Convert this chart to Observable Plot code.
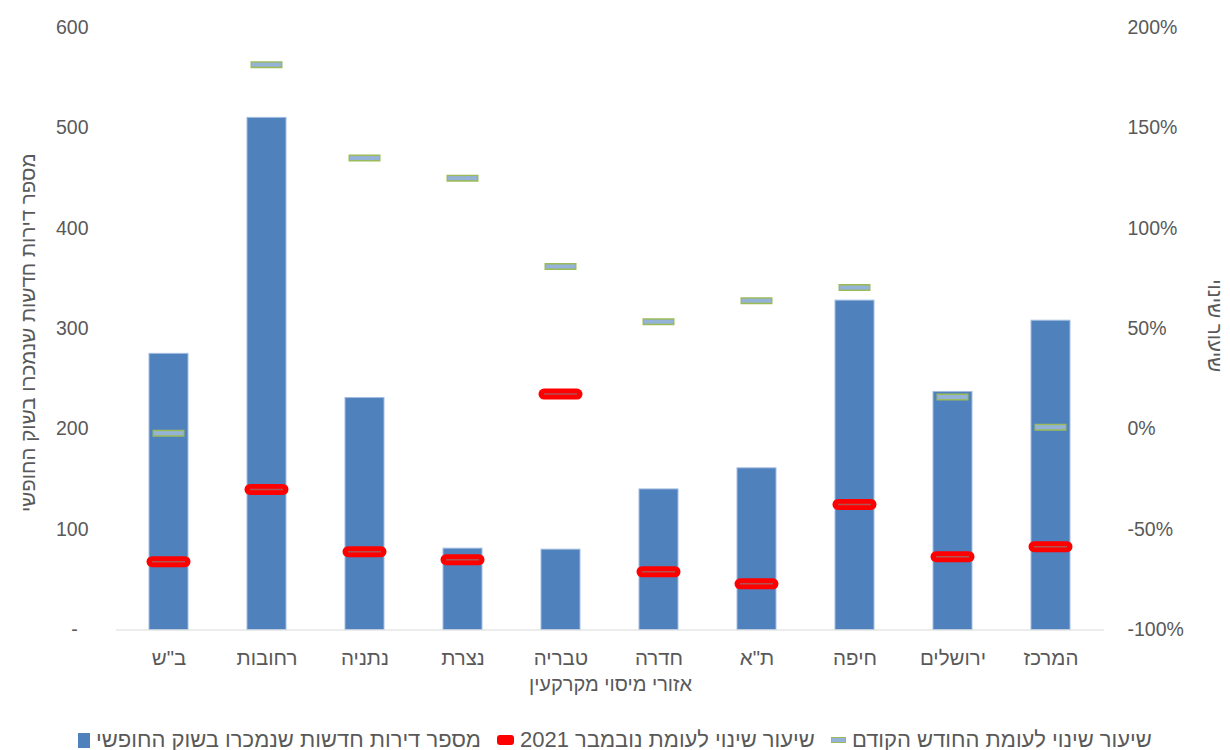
<!DOCTYPE html>
<html>
<head>
<meta charset="utf-8">
<script src="https://cdn.jsdelivr.net/npm/d3@7"></script>
<script src="https://cdn.jsdelivr.net/npm/@observablehq/plot@0.6"></script>
<style>
  body { margin: 0; background: #fff; font-family: "Liberation Sans", "DejaVu Sans", sans-serif; }
  #legend { display: flex; direction: rtl; justify-content: center; align-items: center;
            margin-top: 17px; font-size: 22px; color: #595959; line-height: 26px; }
  .item { display: flex; align-items: center; margin: 0 8px; }
  .sw { display: inline-block; margin-right: 6px; }
</style>
</head>
<body>
<div id="chart"></div>
<div id="legend"></div>
<script>
// ---- data ----
const regions = ["ב\"ש", "רחובות", "נתניה", "נצרת", "טבריה", "חדרה", "ת\"א", "חיפה", "ירושלים", "המרכז"];
const soldUnits = [275, 510, 231, 81, 80, 140, 161, 328, 237, 308];
const changeVsNov2021 = [-66, -30, -61, -65, 17.5, -71, -77, -37.5, -63.5, -58.5];
const changeVsPrevMonth = [-2, 181.5, 135, 125, 81, 53.5, 64, 70.5, 16, 1];
const leftTicks = [0, 100, 200, 300, 400, 500, 600];
const xTitle = "אזורי מיסוי מקרקעין";
const yLeftTitle = "מספר דירות חדשות שנמכרו בשוק החופשי";
const yRightTitle = "שיעור שינוי";
const legendLabels = {
  prev: "שיעור שינוי לעומת החודש הקודם",
  nov: "שיעור שינוי לעומת נובמבר 2021",
  bar: "מספר דירות חדשות שנמכרו בשוק החופשי"
};

const data = regions.map((r, i) => ({ region: r, sold: soldUnits[i], nov: changeVsNov2021[i], prev: changeVsPrevMonth[i] }));
// right (percent) axis shares the left scale: 0% ↔ 200, 100% ↔ 400
const pct = p => 200 + 2 * p;

const font = "Liberation Sans, DejaVu Sans, sans-serif";
const chart = Plot.plot({
  width: 1230,
  height: 710,
  marginTop: 27,
  marginBottom: 80.5,
  marginLeft: 116,
  marginRight: 126,
  style: { fontFamily: font, fontSize: "19.5px", color: "#595959", background: "#fff", overflow: "visible" },
  x: { domain: regions, paddingInner: 0.6, paddingOuter: 0.3 },
  y: { domain: [0, 600] },
  marks: [
    Plot.barY(data, { x: "region", y: "sold", fill: "#4f81bd", stroke: "#a3bde0", strokeWidth: 1 }),
    Plot.ruleY([0], { stroke: "#d9d9d9", strokeWidth: 1.2 }),
    // previous-month markers
    Plot.tickY(data, { x: "region", y: d => pct(d.prev), stroke: "#9bbb59", strokeWidth: 7, insetLeft: 3.5, insetRight: 3.5 }),
    Plot.tickY(data, { x: "region", y: d => pct(d.prev), stroke: "#95b3d7", strokeWidth: 4, insetLeft: 5, insetRight: 5 }),
    // Nov 2021 markers
    Plot.tickY(data, { x: "region", y: d => pct(d.nov), stroke: "#ff0000", strokeWidth: 11, strokeLinecap: "round", insetLeft: 3, insetRight: 3 }),
    Plot.tickY(data, { x: "region", y: d => pct(d.nov), stroke: "#b35050", strokeWidth: 1.5, insetLeft: 3, insetRight: 3 }),
    Plot.axisX({ tickSize: 0, tickPadding: 20, label: null, fontSize: 20.5 }),
    Plot.axisY({ ticks: leftTicks, tickSize: 0, tickPadding: 28, label: null,
                 tickFormat: d => d === 0 ? "-\u00a0\u00a0" : String(d) }),
    Plot.axisY({ anchor: "right", ticks: leftTicks, tickSize: 0, tickPadding: 23, label: null,
                 tickFormat: d => ((d - 200) / 2) + "%" }),
    Plot.text([xTitle], { frameAnchor: "bottom", dy: 60.5, text: d => d, fontSize: 20, fill: "#595959" }),
    Plot.text([yLeftTitle], { frameAnchor: "left", dx: -88, dy: 4, rotate: -90, textAnchor: "middle",
                              text: d => d, fontSize: 20.5, fill: "#595959" }),
    Plot.text([yRightTitle], { frameAnchor: "right", dx: 110, dy: -3, rotate: 90, textAnchor: "middle",
                               text: d => d, fontSize: 20.5, fill: "#595959" })
  ]
});
document.getElementById("chart").append(chart);

// ---- legend (RTL) ----
const swatches = {
  prev: '<span class="sw" style="width:13px;height:4px;background:#95b3d7;border:1.5px solid #9bbb59"></span>',
  nov: '<span class="sw" style="width:17px;height:10px;background:#ff0000;border-radius:3px"></span>',
  bar: '<span class="sw" style="width:12px;height:15px;background:#4f81bd"></span>'
};
const legend = document.getElementById("legend");
for (const key of ["prev", "nov", "bar"]) {
  const item = document.createElement("span");
  item.className = "item";
  item.innerHTML = `<span>${legendLabels[key]}</span>${swatches[key]}`;
  legend.append(item);
}
</script>
</body>
</html>
